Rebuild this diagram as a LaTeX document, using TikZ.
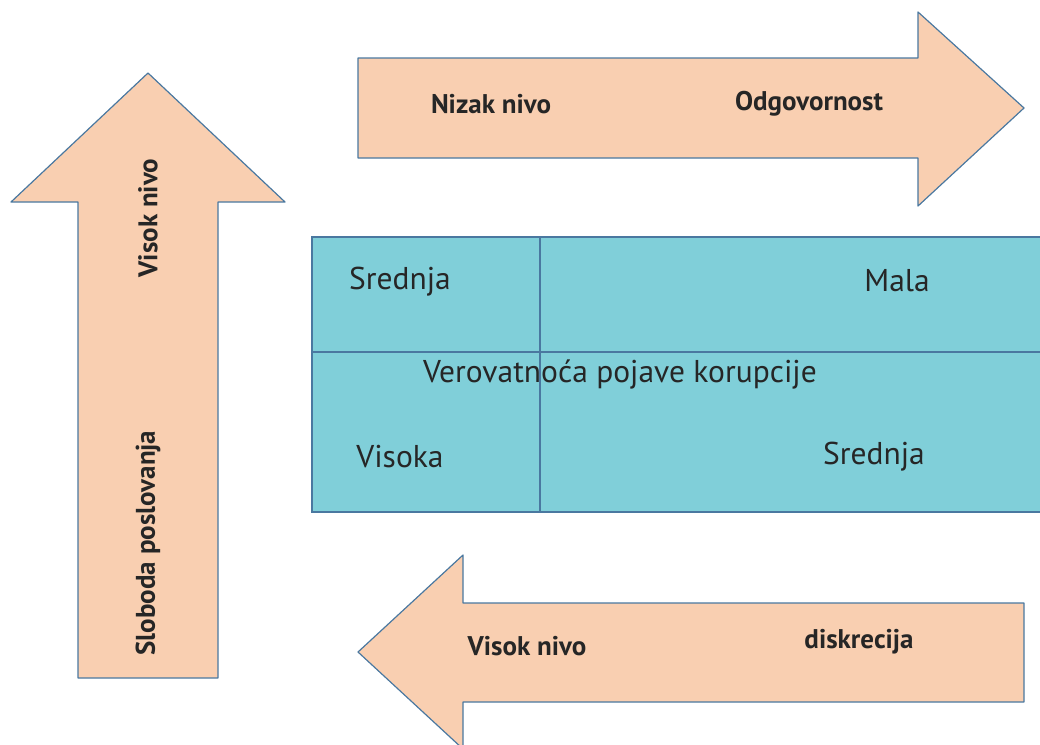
\documentclass[tikz,border=0pt]{standalone}
\usepackage{fontspec}
\setmainfont{PT Sans}
\usepackage{xcolor}
\definecolor{peach}{HTML}{F9CFB1}
\definecolor{teal}{HTML}{80CFD9}
\definecolor{edge}{HTML}{4A78A0}

\begin{document}
\begin{tikzpicture}[x=1pt,y=-1pt,
    arrowbody/.style={draw=edge,line width=1.2pt,fill=peach,line join=round},
    cellline/.style={draw=edge,line width=1.2pt},
    celltext/.style={font=\fontsize{31.5}{34}\selectfont,text=black!85},
    arrowtext/.style={font=\fontsize{27}{30}\selectfont\bfseries,text=black!85}]
      \clip (0,0) rectangle (1040,744);

      % arrow going up
      \draw[arrowbody] (78,678) -- (78,202) -- (11,202) -- (148,73) -- (285,202) -- (218,202) -- (218,678) -- cycle;
      % arrow going right
      \draw[arrowbody] (358,58) -- (918,58) -- (918,12) -- (1024,108) -- (918,206) -- (918,158) -- (358,158) -- cycle;
      % arrow going left
      \draw[arrowbody] (1024,603) -- (463,603) -- (463,555) -- (358,652) -- (463,749) -- (463,702) -- (1024,702) -- cycle;

      % table
      \draw[cellline,fill=teal] (312,237) rectangle (1060,512);
      \draw[cellline] (540,237) -- (540,512);
      \draw[cellline] (312,352) -- (1060,352);

      \node[celltext] (tl) at (400,282) {Srednja};
      \node[celltext] (tr) at (897,281) {Mala};
      \node[celltext] (mid) at (620,374) {Verovatnoća pojave korupcije};
      \node[celltext] (bl) at (400,457) {Visoka};
      \node[celltext] (br) at (874,457) {Srednja};

      \node[arrowtext] (low) at (491,104) {Nizak nivo};
      \node[arrowtext] (resp) at (809,104) {Odgovornost};
      \node[arrowtext,rotate=90] (high) at (148,218) {Visok nivo};
      \node[arrowtext,rotate=90] (free) at (148,543) {Sloboda poslovanja};
      \node[arrowtext] (high2) at (527,646) {Visok nivo};
      \node[arrowtext] (disc) at (859,642) {diskrecija};

    \end{tikzpicture}
\end{document}
